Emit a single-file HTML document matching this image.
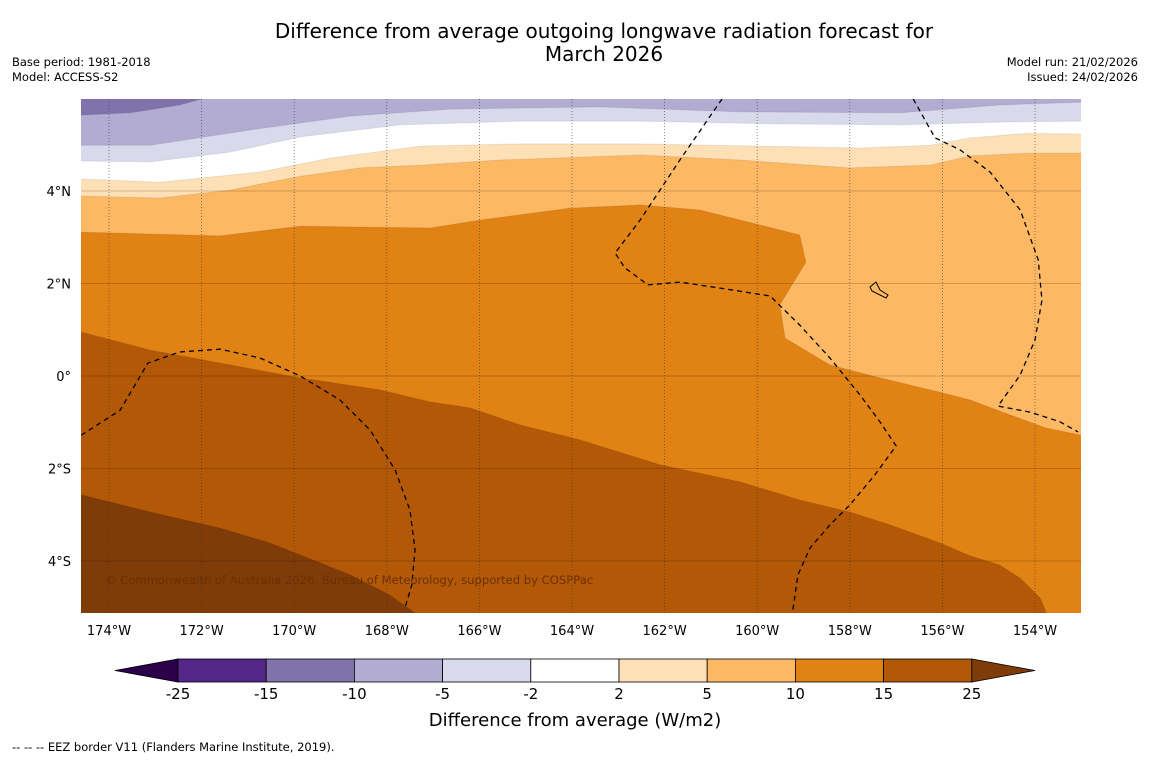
<!DOCTYPE html>
<html><head><meta charset="utf-8">
<style>
html,body{margin:0;padding:0;background:#fff;}
body{width:1150px;height:758px;overflow:hidden;font-family:"DejaVu Sans","Liberation Sans",sans-serif;}
svg text{font-family:"DejaVu Sans","Liberation Sans",sans-serif;}
</style></head>
<body>
<svg id="chart" width="1150" height="758" xmlns="http://www.w3.org/2000/svg">
<text x="604" y="38" font-size="20" text-anchor="middle" fill="#000">Difference from average outgoing longwave radiation forecast for</text>
<text x="604" y="61" font-size="20" text-anchor="middle" fill="#000">March 2026</text>
<text x="12" y="66" font-size="11.5">Base period: 1981-2018</text>
<text x="12" y="81" font-size="11.5">Model: ACCESS-S2</text>
<text x="1138" y="66" font-size="11.5" text-anchor="end">Model run: 21/02/2026</text>
<text x="1138" y="81" font-size="11.5" text-anchor="end">Issued: 24/02/2026</text>
<defs><clipPath id="mapclip"><rect x="81" y="99" width="1000" height="514"/></clipPath></defs>
<g id="map" clip-path="url(#mapclip)"></g>
<g id="axes"></g>
<g id="cbar"></g>
<text x="575" y="726" font-size="18" text-anchor="middle">Difference from average (W/m2)</text>
<text x="12" y="751" font-size="11.5">--  --  -- EEZ border V11 (Flanders Marine Institute, 2019).</text>
</svg>
<script>
// colour scale
const levels = [-25,-15,-10,-5,-2,2,5,10,15,25];
const colors = ['#2d004b','#542788','#8073ac','#b2abd2','#d8daeb','#ffffff','#fee0b6','#fdb863','#e08214','#b35806','#7f3b08'];
// contour boundaries (lon, lat)
const bndLon25 = [-174.6,-173.11,-171.6,-170.52,-169.87,-168.79,-167.93,-167.28];
const bndLat25 = [-2.57,-2.94,-3.29,-3.61,-3.87,-4.3,-4.74,-5.2];
const bndLon15 = [-174.6,-173.11,-171.39,-169.87,-168.15,-167.07,-166.2,-165.12,-163.83,-162.1,-160.37,-159.08,-158.0,-157.13,-156.05,-155.4,-154.76,-154.32,-153.89,-153.72];
const bndLat15 = [0.95,0.56,0.24,-0.04,-0.3,-0.56,-0.69,-1.06,-1.38,-1.92,-2.29,-2.68,-2.94,-3.22,-3.61,-3.89,-4.09,-4.37,-4.8,-5.2];
const bndLon10 = [-174.6,-171.6,-169.87,-167.07,-165.99,-164.04,-162.53,-161.24,-159.08,-158.95,-159.51,-159.4,-158.43,-157.35,-156.05,-155.4,-154.54,-153.78,-153.0];
const bndLat10 = [3.11,3.03,3.24,3.2,3.37,3.63,3.7,3.59,3.05,2.46,1.54,0.82,0.24,-0.04,-0.35,-0.52,-0.84,-1.12,-1.28];
const bndLon5 = [-174.6,-172.9,-171.39,-169.87,-168.58,-167.28,-165.56,-162.53,-160.37,-158.0,-156.27,-155.4,-154.11,-153.0];
const bndLat5 = [3.89,3.85,4.02,4.32,4.5,4.56,4.67,4.78,4.67,4.5,4.56,4.76,4.82,4.82];
const bndLonM2 = [-174.6,-172.9,-170.74,-169.23,-167.28,-165.12,-162.53,-159.94,-157.78,-156.27,-155.4,-154.11,-153.0];
const bndLatM2 = [4.26,4.19,4.41,4.71,4.97,5.02,5.02,4.97,4.93,4.99,5.15,5.25,5.23];
const bndLonM5 = [-174.6,-173.11,-171.39,-169.87,-167.71,-165.12,-162.53,-159.51,-156.92,-154.76,-153.0];
const bndLatM5 = [4.65,4.63,4.84,5.17,5.43,5.51,5.51,5.45,5.43,5.49,5.51];
const bndLonM10 = [-174.6,-173.11,-170.95,-168.79,-166.63,-163.4,-160.37,-156.92,-154.76,-153.0];
const bndLatM10 = [4.99,4.99,5.32,5.62,5.77,5.82,5.71,5.69,5.86,5.92];
const bndLonM15 = [-174.6,-173.55,-172.47,-171.6];
const bndLatM15 = [5.64,5.69,5.86,6.1];
// EEZ borders
const eezLon1 = [-174.6,-173.76,-173.16,-172.47,-171.6,-170.74,-169.87,-169.01,-168.36,-167.82,-167.5,-167.39,-167.46,-167.61];
const eezLat1 = [-1.28,-0.74,0.28,0.52,0.58,0.39,0,-0.52,-1.17,-2.03,-2.9,-3.76,-4.52,-5.02];
const eezLon2 = [-160.76,-161.67,-162.53,-163.07,-162.86,-162.36,-161.67,-160.8,-159.72,-159.08,-158.43,-157.78,-157.35,-157.0,-157.46,-158.0,-158.43,-158.86,-159.12,-159.23];
const eezLat2 = [5.99,4.67,3.37,2.66,2.34,1.97,2.03,1.9,1.73,1.1,0.39,-0.41,-0.99,-1.51,-2.14,-2.79,-3.22,-3.72,-4.3,-5.06];
const eezLon3 = [-156.63,-156.16,-155.62,-154.97,-154.32,-153.93,-153.85,-154.0,-154.32,-154.8,-154.11,-153.46,-153.07];
const eezLat3 = [5.99,5.15,4.89,4.41,3.59,2.51,1.64,0.78,0.02,-0.65,-0.78,-0.99,-1.21];
const lonTicks = [-174,-172,-170,-168,-166,-164,-162,-160,-158,-156,-154];
const latTicks = [4,2,0,-2,-4];

const NS='http://www.w3.org/2000/svg';
function xS(lon){return 109+(lon+174)*46.3;}
function yS(lat){return 376-lat*46.25;}
function mk(tag,attrs,parent){const e=document.createElementNS(NS,tag);for(const k in attrs)e.setAttribute(k,attrs[k]);parent.appendChild(e);return e;}
const map=document.getElementById('map');
const axes=document.getElementById('axes');
const cbar=document.getElementById('cbar');

let base=mk('rect',{x:81,y:99,width:1000,height:514,fill:colors[10]},map);


const bands=[[bndLon25,bndLat25,9,'band-15-25'],[bndLon15,bndLat15,8,'band-10-15'],[bndLon10,bndLat10,7,'band-5-10'],[bndLon5,bndLat5,6,'band-2-5'],[bndLonM2,bndLatM2,5,'band-m2-2'],[bndLonM5,bndLatM5,4,'band-m5-m2'],[bndLonM10,bndLatM10,3,'band-m10-m5'],[bndLonM15,bndLatM15,2,'band-m15-m10']];
bands.forEach(b=>{
  const lo=b[0],la=b[1];
  let d='M'+xS(lo[0])+','+yS(la[0]);
  for(let i=1;i<lo.length;i++)d+=' L'+xS(lo[i])+','+yS(la[i]);
  if(b[2]===2){d+=' L70,90 Z';}
  else d+=' L1090,'+yS(la[la.length-1])+' L1090,90 L70,90 L70,'+yS(la[0])+' Z';
  const p=mk('path',{d:d,fill:colors[b[2]],stroke:'rgba(0,0,0,0.08)','stroke-width':1},map);
  
  
});
lonTicks.forEach(l=>{
  const g=mk('line',{x1:xS(l),x2:xS(l),y1:99,y2:613,stroke:'#333','stroke-width':0.8,'stroke-dasharray':'1,2',opacity:0.7},map);
  
  
});
latTicks.forEach(l=>{
  const g=mk('line',{x1:81,x2:1081,y1:yS(l),y2:yS(l),stroke:'#000','stroke-width':0.6,opacity:0.35},map);
  
  
});
[[eezLon1,eezLat1],[eezLon2,eezLat2],[eezLon3,eezLat3]].forEach(e=>{
  let d='M'+xS(e[0][0])+','+yS(e[1][0]);
  for(let i=1;i<e[0].length;i++)d+=' L'+xS(e[0][i])+','+yS(e[1][i]);
  const p=mk('path',{d:d,fill:'none',stroke:'#000','stroke-width':1.3,'stroke-dasharray':'5,4'},map);
  
  
});
let isl=mk('path',{d:'M870,287 L876,282 L880,290 L888,295 L886,298 L872,291 Z',fill:'#fdb863',stroke:'#000','stroke-width':1},map);


let cp=mk('text',{x:105,y:584,'font-size':11.6,fill:'#6b3005'},map);
cp.textContent='© Commonwealth of Australia 2026, Bureau of Meteorology, supported by COSPPac';



lonTicks.forEach(l=>{
  const t=mk('text',{x:xS(l),y:635,'font-size':13,'text-anchor':'middle'},axes);
  t.textContent=Math.abs(l)+'°W';
  
  
});
latTicks.forEach(l=>{
  const t=mk('text',{x:71,y:yS(l)+5,'font-size':13,'text-anchor':'end'},axes);
  t.textContent=l===0?'0°':Math.abs(l)+'°'+(l>0?'N':'S');
  
  
});

const cx0=178,cw=88.2,cy=659,ch=23;
let tl=mk('polygon',{points:`${cx0},${cy} ${cx0},${cy+ch} 115,${cy+ch/2}`,fill:colors[0],stroke:'#000','stroke-width':0.8},cbar);


for(let i=0;i<levels.length-1;i++){
  const r=mk('rect',{x:cx0+i*cw,y:cy,width:cw,height:ch,fill:colors[i+1],stroke:'#000','stroke-width':0.8},cbar);
  
  
}
const cx1=cx0+(levels.length-1)*cw;
let tr=mk('polygon',{points:`${cx1},${cy} ${cx1},${cy+ch} 1035,${cy+ch/2}`,fill:colors[10],stroke:'#000','stroke-width':0.8},cbar);


levels.forEach((v,i)=>{
  const t=mk('text',{x:cx0+i*cw,y:699,'font-size':15,'text-anchor':'middle'},cbar);
  t.textContent=v;
  
  
});
</script>
</body></html>
